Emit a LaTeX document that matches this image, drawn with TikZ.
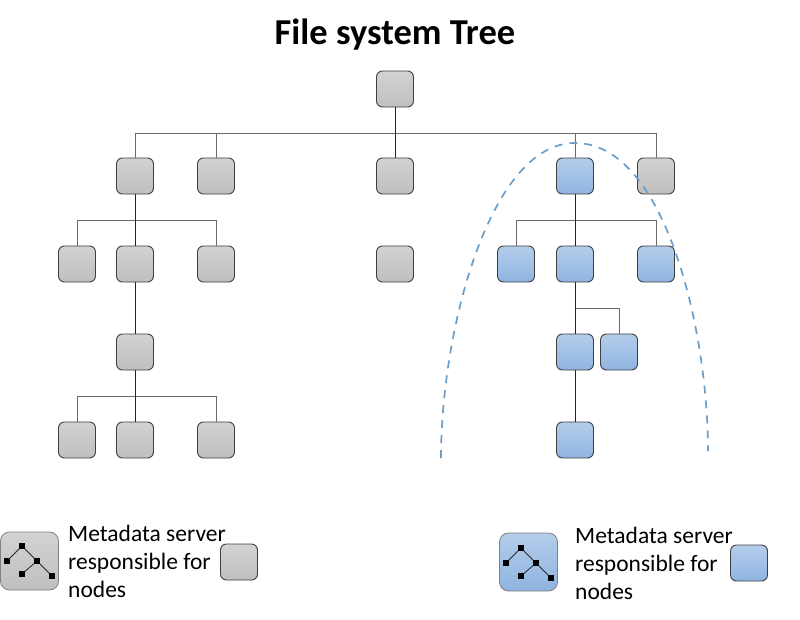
\documentclass[tikz,border=0pt]{standalone}
\usepackage{fontspec}
\setmainfont{Carlito}
\usepackage{xcolor}
\usetikzlibrary{arrows,shapes,calc,positioning}
\definecolor{nodeline}{HTML}{3F3F3F}
\definecolor{busline}{HTML}{6A6A6A}
\definecolor{arcblue}{HTML}{6A9FCC}
\definecolor{blueup}{HTML}{B4CDEB}
\definecolor{bluedown}{HTML}{8FB4E0}
\begin{document}
\begin{tikzpicture}[x=1pt, y=-1pt]
	\tikzstyle{every node}=[font=\fontsize{23.5}{28}\selectfont]
	\tikzstyle{graybox}=[draw=nodeline, line width=0.9pt, rounded corners=6pt, minimum width=37pt, minimum height=36pt, inner sep=0pt, top color=gray!35!white, bottom color=gray!50!white]
	\tikzstyle{bluebox}=[graybox, top color=blueup, bottom color=bluedown]
	\tikzstyle{bigbox}=[minimum width=58pt, minimum height=58pt, rounded corners=9pt, draw=gray, line width=0.8pt]
	\tikzstyle{dot}=[fill=black, minimum size=5.5pt, inner sep=0pt]
	\tikzstyle{legend}=[align=left, anchor=west, inner sep=0pt]
	\tikzstyle{link}=[line width=0.8pt, draw=black!85]
	\tikzstyle{bus}=[line width=0.8pt, draw=busline]
	\useasboundingbox (0,0) rectangle (800,619);
	\fill [white] (0,0) rectangle (800,619);

	\node [font=\fontsize{36.5}{40}\selectfont\bfseries] (title) at (395,35) {File system Tree};

	\node [graybox] (root) at (395,89) {};
	\node [graybox] (a) at (135,176) {};
	\node [graybox] (b) at (216,176) {};
	\node [graybox] (c) at (395,176) {};
	\node [bluebox] (d) at (575,176) {};
	\node [graybox] (e) at (656,176) {};
	\node [graybox] (aa) at (77,264) {};
	\node [graybox] (ab) at (135,264) {};
	\node [graybox] (ac) at (216,264) {};
	\node [graybox] (ca) at (395,264) {};
	\node [bluebox] (da) at (516,264) {};
	\node [bluebox] (db) at (575,264) {};
	\node [bluebox] (dc) at (656,264) {};
	\node [graybox] (aba) at (135,352) {};
	\node [bluebox] (dba) at (575,352) {};
	\node [bluebox] (dbb) at (619,352) {};
	\node [graybox] (abaa) at (77,440) {};
	\node [graybox] (abab) at (135,440) {};
	\node [graybox] (abac) at (216,440) {};
	\node [bluebox] (dbaa) at (575,440) {};

	\coordinate (rootbus) at (395,133);
	\coordinate (abus) at (135,220);
	\coordinate (dbus) at (575,220);
	\coordinate (dbbus) at (575,308);
	\coordinate (ababus) at (135,396);

	\draw [bus] (rootbus) -| (a);
	\draw [bus] (rootbus) -| (b);
	\draw [bus] (rootbus) -| (d);
	\draw [bus] (rootbus) -| (e);
	\draw [link] (root) -- (c);
	\draw [bus] (abus) -| (aa);
	\draw [bus] (abus) -| (ac);
	\draw [link] (a) -- (ab);
	\draw [bus] (dbus) -| (da);
	\draw [bus] (dbus) -| (dc);
	\draw [link] (d) -- (db);
	\draw [link] (ab) -- (aba);
	\draw [bus] (ababus) -| (abaa);
	\draw [bus] (ababus) -| (abac);
	\draw [link] (aba) -- (abab);
	\draw [bus] (dbbus) -| (dbb);
	\draw [link] (db) -- (dba);
	\draw [link] (dba) -- (dbaa);

	\draw [line width=1.7pt, draw=arcblue, dash pattern=on 8pt off 7pt] (441,458) .. controls (441,330) and (490,143) .. (575,143) .. controls (665,143) and (708,330) .. (708,451);

	\node [graybox, bigbox] (grayserver) at (29.5,561) {};
	\node [dot] (g1) at (22,546) {};
	\node [dot] (g2) at (7,561) {};
	\node [dot] (g3) at (37,561) {};
	\node [dot] (g4) at (22,574) {};
	\node [dot] (g5) at (52,576) {};
	\draw [link] (g1) -- (g2);
	\draw [link] (g1) -- (g3);
	\draw [link] (g3) -- (g4);
	\draw [link] (g3) -- (g5);
	\node [legend] (graytext) at (68,561) {Metadata server\\responsible for\\nodes};
	\node [graybox] (graykey) at (239,562) {};

	\node [bluebox, bigbox] (blueserver) at (528.5,562) {};
	\node [dot] (b1) at (521,548) {};
	\node [dot] (b2) at (506,563) {};
	\node [dot] (b3) at (536,563) {};
	\node [dot] (b4) at (521,576) {};
	\node [dot] (b5) at (551,578) {};
	\draw [link] (b1) -- (b2);
	\draw [link] (b1) -- (b3);
	\draw [link] (b3) -- (b4);
	\draw [link] (b3) -- (b5);
	\node [legend] (bluetext) at (575,563) {Metadata server\\responsible for\\nodes};
	\node [bluebox] (bluekey) at (749,563) {};
\end{tikzpicture}
\end{document}
